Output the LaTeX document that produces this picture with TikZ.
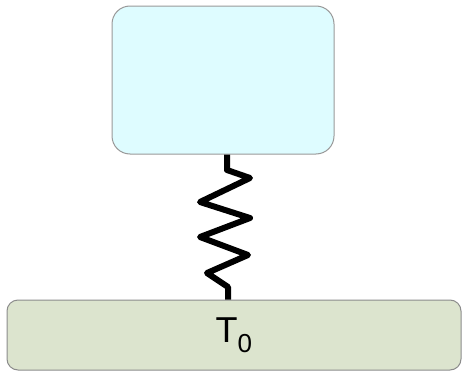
\documentclass[tikz,border=0pt]{standalone}
\usepackage{fontspec}
\setmainfont{Liberation Sans}
\begin{document}
\begin{tikzpicture}[x=1pt,y=-1pt,
  body/.style={draw=black!40, line width=1pt, fill={rgb,255:red,222;green,252;blue,255}, rounded corners=18pt},
  reservoir/.style={draw=black!45, line width=1pt, fill={rgb,255:red,220;green,228;blue,206}, rounded corners=11pt},
  spring/.style={line width=6pt, line join=round, black}]
\useasboundingbox (0,0) rectangle (463,372);
% upper body
\node[body, minimum width=222pt, minimum height=148pt, inner sep=0pt] (mass) at (223,80) {};
% heat reservoir at temperature T0
\node[reservoir, minimum width=454pt, minimum height=70pt, inner sep=0pt] (bath) at (234,335)
  {\fontsize{36}{40}\selectfont T\textsubscript{\fontsize{26}{28}\selectfont 0}};
% spring joining body and reservoir
\coordinate (s1) at (227,170);
\coordinate (s2) at (228,287);
\draw[spring] (mass.south -| s1) -- (s1) -- (250,178) -- (200,202) -- (250,218)
  -- (200,237) -- (248,255) -- (207,273) -- (s2) -- (bath.north -| s2);
\end{tikzpicture}
\end{document}
